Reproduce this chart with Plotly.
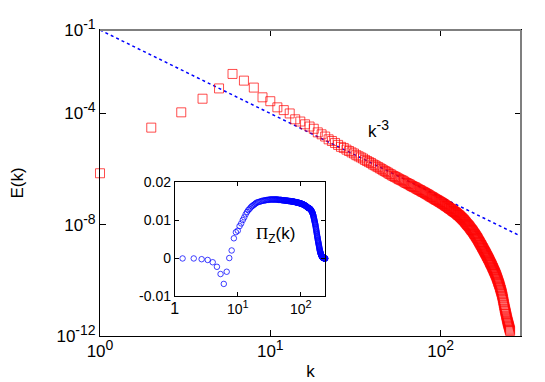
import numpy as np
import plotly.graph_objects as go

# energy spectrum E(k), stored as log10 values, k = 1..256
k = np.arange(1, 257)
log_E = [
    -6.15, -4.51, -3.96, -3.47, -3.10, -2.58, -2.82, -3.07, -3.42, -3.56,
    -3.78, -3.88, -4.00, -4.21, -4.29, -4.39, -4.47, -4.55, -4.68, -4.75,
    -4.83, -4.93, -4.99, -5.06, -5.13, -5.20, -5.24, -5.30, -5.35, -5.40,
    -5.44, -5.50, -5.54, -5.58, -5.62, -5.67, -5.71, -5.75, -5.78, -5.83,
    -5.86, -5.90, -5.93, -5.97, -6.00, -6.04, -6.07, -6.10, -6.13, -6.17,
    -6.19, -6.23, -6.25, -6.28, -6.30, -6.33, -6.36, -6.38, -6.40, -6.42,
    -6.45, -6.48, -6.50, -6.52, -6.54, -6.56, -6.59, -6.61, -6.63, -6.65,
    -6.66, -6.69, -6.71, -6.73, -6.75, -6.76, -6.79, -6.81, -6.82, -6.84,
    -6.86, -6.88, -6.90, -6.91, -6.94, -6.95, -6.98, -6.99, -7.01, -7.02,
    -7.05, -7.06, -7.08, -7.10, -7.11, -7.13, -7.14, -7.16, -7.18, -7.19,
    -7.21, -7.23, -7.24, -7.26, -7.27, -7.30, -7.31, -7.33, -7.34, -7.36,
    -7.38, -7.40, -7.41, -7.43, -7.44, -7.46, -7.48, -7.50, -7.51, -7.53,
    -7.54, -7.56, -7.57, -7.59, -7.61, -7.63, -7.65, -7.66, -7.68, -7.70,
    -7.72, -7.74, -7.76, -7.78, -7.80, -7.82, -7.84, -7.86, -7.89, -7.91,
    -7.93, -7.96, -7.98, -8.00, -8.02, -8.04, -8.06, -8.09, -8.11, -8.14,
    -8.16, -8.19, -8.20, -8.23, -8.25, -8.28, -8.31, -8.33, -8.35, -8.38,
    -8.41, -8.43, -8.46, -8.48, -8.51, -8.54, -8.57, -8.60, -8.62, -8.65,
    -8.68, -8.71, -8.73, -8.76, -8.79, -8.82, -8.84, -8.87, -8.90, -8.93,
    -8.95, -8.98, -9.01, -9.03, -9.06, -9.09, -9.12, -9.14, -9.17, -9.20,
    -9.22, -9.25, -9.28, -9.31, -9.34, -9.37, -9.39, -9.42, -9.45, -9.47,
    -9.51, -9.54, -9.56, -9.59, -9.63, -9.65, -9.68, -9.71, -9.74, -9.77,
    -9.80, -9.83, -9.87, -9.90, -9.94, -9.97, -10.01, -10.05, -10.08, -10.12,
    -10.15, -10.19, -10.24, -10.27, -10.32, -10.35, -10.40, -10.44, -10.49, -10.54,
    -10.59, -10.65, -10.71, -10.77, -10.83, -10.89, -10.95, -11.01, -11.06, -11.11,
    -11.16, -11.21, -11.26, -11.31, -11.36, -11.41, -11.46, -11.50, -11.54, -11.58,
    -11.62, -11.66, -11.70, -11.74, -11.78, -11.82,
]
E = 10 ** np.array(log_E)

# reference power law  E ~ 0.1 k^-3
law_amp = 0.1
law_exp = -3

# enstrophy flux Pi_Z(k) for the inset
k_pi_low = [1.33, 2, 2.67, 3.33, 4, 4.67, 5.33, 6, 6.67, 7.33, 8, 8.67, 9.33, 10,
            10.67, 11.33, 12, 12.67, 13.33, 14, 14.67, 15.33, 16, 16.67, 17.33,
            18, 18.67, 19.33, 20]
pi_low = [0.0, 0.0, -0.0002, -0.0004, -0.0010, -0.0022, -0.0041, -0.0067, -0.0035,
          0.0001, 0.0021, 0.0053, 0.0069, 0.0073, 0.0085, 0.0092, 0.0101, 0.0108,
          0.0116, 0.0122, 0.0127, 0.0130, 0.0134, 0.0137, 0.0139, 0.0141, 0.0143,
          0.0145, 0.0147]
k_pi_high = list(range(21, 257))
pi_high_e4 = [
    148, 149, 150, 151, 152, 152, 153, 153, 154, 154,
    154, 155, 155, 155, 155, 155, 155, 155, 155, 155,
    155, 155, 155, 154, 154, 154, 154, 154, 154, 153,
    153, 153, 153, 153, 153, 152, 152, 152, 152, 152,
    152, 152, 151, 151, 151, 151, 151, 151, 150, 150,
    150, 150, 150, 150, 150, 149, 149, 149, 149, 149,
    148, 148, 148, 148, 148, 147, 147, 147, 147, 147,
    146, 146, 146, 146, 146, 145, 145, 145, 145, 144,
    144, 144, 144, 143, 143, 143, 143, 142, 142, 142,
    141, 141, 141, 140, 140, 140, 139, 139, 138, 138,
    138, 137, 137, 136, 136, 135, 135, 134, 134, 133,
    133, 133, 133, 132, 132, 132, 131, 131, 131, 130,
    130, 129, 129, 128, 127, 127, 126, 125, 124, 123,
    122, 121, 120, 119, 118, 116, 115, 113, 111, 109,
    107, 105, 103, 101, 99, 97, 95, 93, 91, 89,
    87, 84, 82, 79, 77, 74, 72, 69, 67, 64,
    62, 59, 57, 55, 53, 50, 48, 46, 44, 42,
    40, 38, 36, 34, 32, 30, 28, 26, 24, 22,
    21, 19, 18, 17, 15, 14, 13, 12, 11, 10,
    9, 8, 7, 7, 6, 5, 5, 4, 4, 3,
    3, 3, 2, 2, 2, 2, 1, 1, 1, 1,
    1, 1, 1, 1, 0, 0, 0, 0, 0, 0,
    0, 0, 0, 0, 0, 0, 0, 0, 0, 0,
    0, 0, 0, 0, 0, 0,
]
k_pi = k_pi_low + k_pi_high
pi_z = pi_low + [v * 1e-4 for v in pi_high_e4]

FONT = "Liberation Sans"
x_range = [0, 2.472]
y_range = [-12, -1]


def pow10(e, sup_px=14):
    return f"10<sup><span style='font-size:{sup_px}px'>{e}</span></sup>"


k_line = 10 ** np.array(x_range)
E_line = law_amp * k_line ** law_exp

fig = go.Figure()
fig.add_trace(go.Scatter(
    x=k_line, y=E_line, mode="lines",
    line=dict(color="blue", width=1.5, dash="dot"),
    xaxis="x", yaxis="y", showlegend=False))
fig.add_trace(go.Scatter(
    x=k, y=E, mode="markers", cliponaxis=False,
    marker=dict(symbol="square-open", size=9, color="rgba(255,0,0,0.7)",
                line=dict(width=1)),
    xaxis="x", yaxis="y", showlegend=False))
fig.add_trace(go.Scatter(
    x=k_pi, y=pi_z, mode="markers", cliponaxis=False,
    marker=dict(symbol="circle-open", size=5.5, color="rgba(0,0,255,0.75)",
                line=dict(width=1)),
    xaxis="x2", yaxis="y2", showlegend=False))

axis_common = dict(showline=True, linecolor="black", linewidth=1, mirror="ticks",
                   ticks="inside", tickcolor="black", showgrid=False, zeroline=False,
                   automargin=False)

fig.update_layout(
    width=545, height=382,
    margin=dict(l=92, r=32, t=22, b=54),
    paper_bgcolor="white", plot_bgcolor="white",
    font=dict(family=FONT, color="black"),
    xaxis=dict(type="log", range=x_range, domain=[0, 1],
               tickvals=[1, 10, 100],
               ticktext=[pow10(0), pow10(1), pow10(2)],
               ticklen=6, tickfont=dict(size=17),
               title=dict(text="k", font=dict(size=17), standoff=4),
               **axis_common),
    yaxis=dict(type="log", range=y_range, domain=[0, 1],
               tickvals=[1e-1, 1e-4, 1e-8, 1e-12],
               ticktext=[pow10(-1), pow10(-4), pow10(-8), pow10(-12)],
               ticklen=6, tickfont=dict(size=17),
               title=dict(text="E(k)", font=dict(size=17), standoff=32),
               **axis_common),
    xaxis2=dict(type="log", range=[0, 2.39], domain=[0.1776, 0.5353], anchor="y2",
                tickvals=[1, 10, 100],
                ticktext=["<span style='font-size:16px'>1</span>",
                          pow10(1, 11), pow10(2, 11)],
                ticklen=4, tickfont=dict(size=14),
                **axis_common),
    yaxis2=dict(range=[-0.01, 0.02], domain=[0.1292, 0.502], anchor="x2",
                tickvals=[-0.01, 0, 0.01, 0.02],
                ticktext=["-0.01", "0", "0.01", "0.02"],
                ticklen=4, tickfont=dict(size=14),
                **axis_common),
    shapes=[
        dict(type="line", xref="x2 domain", yref="y2", x0=0, x1=1, y0=0, y1=0,
             line=dict(color="black", width=1, dash="3px,3px"), layer="below"),
        dict(type="line", xref="paper", yref="paper", x0=0, x1=1, y0=1, y1=1,
             line=dict(color="#7f7f7f", width=2)),
        dict(type="line", xref="paper", yref="paper", x0=1, x1=1, y0=0, y1=1,
             line=dict(color="#7f7f7f", width=2)),
    ],
    annotations=[
        dict(x=1.635, y=-4.55, xref="x", yref="y", showarrow=False,
             text="k<sup><span style='font-size:14px'>-3</span></sup>",
             font=dict(size=17)),
        dict(x=1.60, y=0.0061, xref="x2", yref="y2", showarrow=False,
             text="<span style='font-family:Liberation Serif'>Π</span><sub>Z</sub>(k)",
             font=dict(size=17)),
    ],
)

fig.write_html("out.html")
